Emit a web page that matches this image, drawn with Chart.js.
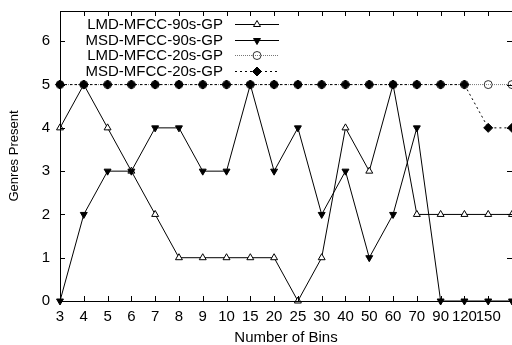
<!DOCTYPE html>
<html>
<head>
<meta charset="utf-8">
<script src="https://cdn.jsdelivr.net/npm/chart.js@4"></script>
<style>
  html, body { margin: 0; padding: 0; background: #fff; }
</style>
</head>
<body>
<canvas id="chart" width="512" height="345"></canvas>
<script>
// number of bins (last column has no label in the original)
const binLabels = ['3', '4', '5', '6', '7', '8', '9', '10', '15', '20', '25', '30', '40', '50', '60', '70', '90', '120', '150', ''];

const lmd90 = [4, 5, 4, 3, 2, 1, 1, 1, 1, 1, 0, 1, 4, 3, 5, 2, 2, 2, 2, 2];
const msd90 = [0, 2, 3, 3, 4, 4, 3, 3, 5, 3, 4, 2, 3, 1, 2, 4, 0, 0, 0, 0];
const lmd20 = [5, 5, 5, 5, 5, 5, 5, 5, 5, 5, 5, 5, 5, 5, 5, 5, 5, 5, 5, 5];
const msd20 = [5, 5, 5, 5, 5, 5, 5, 5, 5, 5, 5, 5, 5, 5, 5, 5, 5, 5, 4, 4];

const yTicks = [0, 1, 2, 3, 4, 5, 6];

const FONT = 'Liberation Sans, Arial, Helvetica, sans-serif';

// gnuplot style frame: box with inward ticks on all sides, legend text left of sample
const framePlugin = {
    id: 'frame',
    afterDraw(chart) {
        const ctx = chart.ctx;
        const a = chart.chartArea;
        const x = chart.scales.x;
        const y = chart.scales.y;
        const tl = 5;
        ctx.save();
        ctx.strokeStyle = '#000';
        ctx.lineWidth = 1;
        ctx.beginPath();
        ctx.rect(a.left + 0.5, a.top + 0.5, a.right - a.left, a.bottom - a.top);
        for (let i = 0; i < binLabels.length; i++) {
            const px = Math.round(x.getPixelForValue(i)) + 0.5;
            ctx.moveTo(px, a.bottom);
            ctx.lineTo(px, a.bottom - tl);
            ctx.moveTo(px, a.top);
            ctx.lineTo(px, a.top + tl);
        }
        yTicks.forEach(v => {
            const py = Math.round(y.getPixelForValue(v)) + 0.5;
            ctx.moveTo(a.left, py);
            ctx.lineTo(a.left + tl, py);
            ctx.moveTo(a.right, py);
            ctx.lineTo(a.right - tl, py);
        });
        ctx.stroke();

        // legend
        const textRight = 223;
        const lineL = 235, lineR = 279;
        const rowY = [24, 39.5, 55, 70.5];
        ctx.font = '15px ' + FONT;
        ctx.textAlign = 'right';
        ctx.textBaseline = 'middle';
        chart.data.datasets.forEach((ds, i) => {
            const yy = rowY[i];
            ctx.fillStyle = '#000';
            ctx.fillText(ds.label, textRight, yy + 1);
            ctx.save();
            ctx.strokeStyle = ds.borderColor;
            ctx.lineWidth = ds.borderWidth;
            ctx.setLineDash(ds.borderDash || []);
            ctx.beginPath();
            ctx.moveTo(lineL, Math.round(yy) + 0.5);
            ctx.lineTo(lineR, Math.round(yy) + 0.5);
            ctx.stroke();
            ctx.setLineDash([]);
            ctx.fillStyle = ds.pointBackgroundColor;
            ctx.strokeStyle = ds.pointBorderColor;
            ctx.lineWidth = 1;
            Chart.helpers.drawPoint(ctx, {
                pointStyle: ds.pointStyle,
                rotation: ds.pointRotation || 0,
                radius: ds.pointRadius,
                borderWidth: 1
            }, (lineL + lineR) / 2, Math.round(yy) + 0.5);
            ctx.restore();
        });
        ctx.restore();
    }
};

new Chart(document.getElementById('chart'), {
    type: 'line',
    data: {
        labels: binLabels,
        datasets: [
            {
                label: 'LMD-MFCC-90s-GP',
                data: lmd90,
                order: 4,
                borderColor: '#000',
                borderWidth: 1,
                pointStyle: 'triangle',
                pointRadius: 4,
                pointBackgroundColor: '#fff',
                pointBorderColor: '#000',
                pointBorderWidth: 1,
                clip: false
            },
            {
                label: 'MSD-MFCC-90s-GP',
                data: msd90,
                order: 3,
                borderColor: '#000',
                borderWidth: 1,
                pointStyle: 'triangle',
                pointRotation: 180,
                pointRadius: 4,
                pointBackgroundColor: '#000',
                pointBorderColor: '#000',
                pointBorderWidth: 1,
                clip: false
            },
            {
                label: 'LMD-MFCC-20s-GP',
                data: lmd20,
                order: 2,
                borderColor: '#777',
                borderWidth: 1,
                borderDash: [1, 1],
                pointStyle: 'circle',
                pointRadius: 4,
                pointBackgroundColor: 'rgba(0,0,0,0)',
                pointBorderColor: '#333',
                pointBorderWidth: 1,
                clip: false
            },
            {
                label: 'MSD-MFCC-20s-GP',
                data: msd20,
                order: 1,
                borderColor: '#000',
                borderWidth: 1,
                borderDash: [2, 3],
                pointStyle: 'rectRot',
                pointRadius: 4.5,
                pointBackgroundColor: '#000',
                pointBorderColor: '#000',
                pointBorderWidth: 1,
                clip: false
            }
        ]
    },
    options: {
        responsive: false,
        animation: false,
        layout: { autoPadding: false, padding: { top: 11, right: 0, bottom: 0, left: 0 } },
        plugins: {
            legend: { display: false },
            tooltip: { enabled: false }
        },
        elements: { line: { tension: 0 } },
        scales: {
            x: {
                type: 'category',
                offset: false,
                grid: { display: false, drawTicks: false },
                border: { display: false },
                ticks: {
                    color: '#000',
                    font: { family: FONT, size: 15 },
                    padding: 7,
                    maxRotation: 0,
                    autoSkip: false
                },
                title: {
                    display: true,
                    text: 'Number of Bins',
                    color: '#000',
                    font: { family: FONT, size: 15, lineHeight: 1 },
                    padding: { top: -2, bottom: 0 }
                },
                afterFit(scale) {
                    scale.height = 44;
                    scale.paddingLeft = 0;
                    scale.paddingRight = 0;
                }
            },
            y: {
                min: 0,
                max: 6.7,
                grid: { display: false, drawTicks: false },
                border: { display: false },
                afterBuildTicks(scale) {
                    scale.ticks = yTicks.map(v => ({ value: v }));
                },
                ticks: {
                    color: '#000',
                    font: { family: FONT, size: 15 },
                    padding: 10
                },
                title: {
                    display: true,
                    text: 'Genres Present',
                    color: '#000',
                    font: { family: FONT, size: 13, lineHeight: 1 },
                    padding: { top: 8, bottom: 0 }
                },
                afterFit(scale) {
                    scale.width = 60;
                    scale.paddingTop = 0;
                    scale.paddingBottom = 0;
                }
            }
        }
    },
    plugins: [framePlugin]
});
</script>
</body>
</html>
